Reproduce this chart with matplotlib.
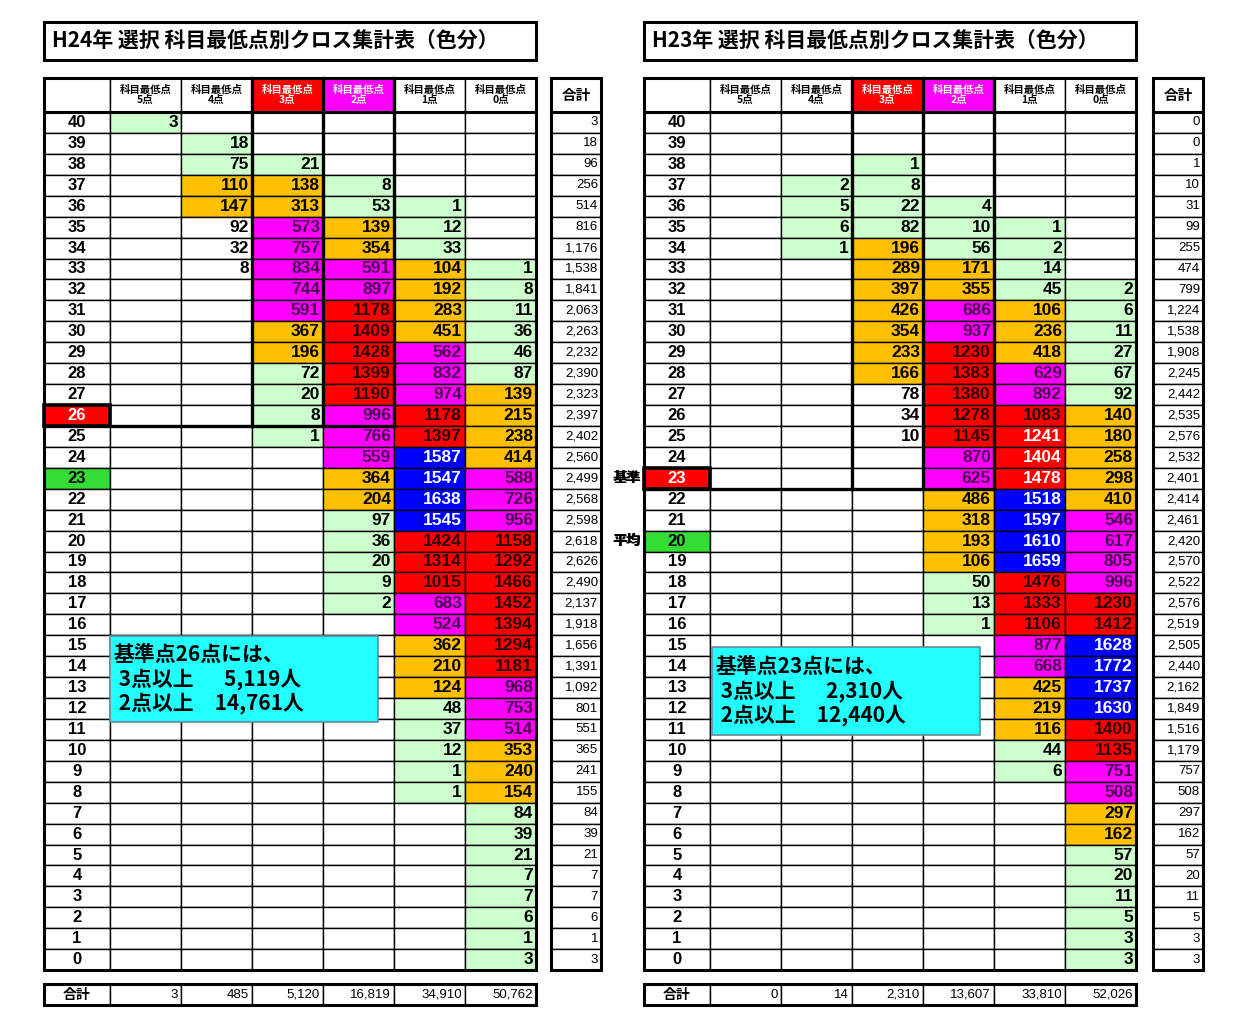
import matplotlib
matplotlib.use("Agg")
import matplotlib.pyplot as plt
from matplotlib.patches import Rectangle

plt.rcParams["font.family"] = ["Noto Sans CJK JP", "DejaVu Sans"]
NUM_FONT = ["Liberation Sans Narrow", "Liberation Sans", "Noto Sans CJK JP"]

# ---- data -----------------------------------------------------------------------------------
SCORES = list(range(40, -1, -1))
COL_HEADS = ["科目最低点\n5点", "科目最低点\n4点", "科目最低点\n3点",
             "科目最低点\n2点", "科目最低点\n1点", "科目最低点\n0点"]
N = None
# columns: 5点, 4点, 3点, 2点, 1点, 0点 ; rows 40 .. 0
H24_CELLS = [
    [3, N, N, N, N, N], [N, 18, N, N, N, N], [N, 75, 21, N, N, N], [N, 110, 138, 8, N, N],
    [N, 147, 313, 53, 1, N], [N, 92, 573, 139, 12, N], [N, 32, 757, 354, 33, N],
    [N, 8, 834, 591, 104, 1], [N, N, 744, 897, 192, 8], [N, N, 591, 1178, 283, 11],
    [N, N, 367, 1409, 451, 36], [N, N, 196, 1428, 562, 46], [N, N, 72, 1399, 832, 87],
    [N, N, 20, 1190, 974, 139], [N, N, 8, 996, 1178, 215], [N, N, 1, 766, 1397, 238],
    [N, N, N, 559, 1587, 414], [N, N, N, 364, 1547, 588], [N, N, N, 204, 1638, 726],
    [N, N, N, 97, 1545, 956], [N, N, N, 36, 1424, 1158], [N, N, N, 20, 1314, 1292],
    [N, N, N, 9, 1015, 1466], [N, N, N, 2, 683, 1452], [N, N, N, N, 524, 1394],
    [N, N, N, N, 362, 1294], [N, N, N, N, 210, 1181], [N, N, N, N, 124, 968],
    [N, N, N, N, 48, 753], [N, N, N, N, 37, 514], [N, N, N, N, 12, 353],
    [N, N, N, N, 1, 240], [N, N, N, N, 1, 154], [N, N, N, N, N, 84], [N, N, N, N, N, 39],
    [N, N, N, N, N, 21], [N, N, N, N, N, 7], [N, N, N, N, N, 7], [N, N, N, N, N, 6],
    [N, N, N, N, N, 1], [N, N, N, N, N, 3]]
H24_ROWTOT = [3, 18, 96, 256, 514, 816, 1176, 1538, 1841, 2063, 2263, 2232, 2390, 2323,
              2397, 2402, 2560, 2499, 2568, 2598, 2618, 2626, 2490, 2137, 1918, 1656, 1391,
              1092, 801, 551, 365, 241, 155, 84, 39, 21, 7, 7, 6, 1, 3]
H24_COLTOT = [3, 485, 5120, 16819, 34910, 50762]

H23_CELLS = [
    [N, N, N, N, N, N], [N, N, N, N, N, N], [N, N, 1, N, N, N], [N, 2, 8, N, N, N],
    [N, 5, 22, 4, N, N], [N, 6, 82, 10, 1, N], [N, 1, 196, 56, 2, N],
    [N, N, 289, 171, 14, N], [N, N, 397, 355, 45, 2], [N, N, 426, 686, 106, 6],
    [N, N, 354, 937, 236, 11], [N, N, 233, 1230, 418, 27], [N, N, 166, 1383, 629, 67],
    [N, N, 78, 1380, 892, 92], [N, N, 34, 1278, 1083, 140], [N, N, 10, 1145, 1241, 180],
    [N, N, N, 870, 1404, 258], [N, N, N, 625, 1478, 298], [N, N, N, 486, 1518, 410],
    [N, N, N, 318, 1597, 546], [N, N, N, 193, 1610, 617], [N, N, N, 106, 1659, 805],
    [N, N, N, 50, 1476, 996], [N, N, N, 13, 1333, 1230], [N, N, N, 1, 1106, 1412],
    [N, N, N, N, 877, 1628], [N, N, N, N, 668, 1772], [N, N, N, N, 425, 1737],
    [N, N, N, N, 219, 1630], [N, N, N, N, 116, 1400], [N, N, N, N, 44, 1135],
    [N, N, N, N, 6, 751], [N, N, N, N, N, 508], [N, N, N, N, N, 297], [N, N, N, N, N, 162],
    [N, N, N, N, N, 57], [N, N, N, N, N, 20], [N, N, N, N, N, 11], [N, N, N, N, N, 5],
    [N, N, N, N, N, 3], [N, N, N, N, N, 3]]
H23_ROWTOT = [0, 0, 1, 10, 31, 99, 255, 474, 799, 1224, 1538, 1908, 2245, 2442, 2535, 2576,
              2532, 2401, 2414, 2461, 2420, 2570, 2522, 2576, 2519, 2505, 2440, 2162, 1849,
              1516, 1179, 757, 508, 297, 162, 57, 20, 11, 5, 3, 3]
H23_COLTOT = [0, 14, 2310, 13607, 33810, 52026]

# cells left uncoloured in the original (score, column index)
H24_PLAIN = [(35, 1), (34, 1), (33, 1)]
H23_PLAIN = [(27, 2), (26, 2), (25, 2)]
H23_WHITE_TEXT = [(25, 4), (24, 4), (23, 4)]

TABLES = [
    dict(title="H24年 選択 科目最低点別クロス集計表（色分）", cells=H24_CELLS,
         rowtot=H24_ROWTOT, coltot=H24_COLTOT, x0=44, tx=551, base=26, avg=23,
         plain=H24_PLAIN, wtext=[], side=False,
         note="基準点26点には、\n 3点以上　  5,119人\n 2点以上　14,761人",
         note_box=(110, 636, 268, 86)),
    dict(title="H23年 選択 科目最低点別クロス集計表（色分）", cells=H23_CELLS,
         rowtot=H23_ROWTOT, coltot=H23_COLTOT, x0=644, tx=1153, base=23, avg=20,
         plain=H23_PLAIN, wtext=H23_WHITE_TEXT, side=True,
         note="基準点23点には、\n 3点以上　  2,310人\n 2点以上　12,440人",
         note_box=(712, 647, 268, 88)),
]

# ---- styling --------------------------------------------------------------------------------
GREEN, ORANGE, MAGENTA, RED, BLUE = "#ccffcc", "#ffc000", "#ff00ff", "#ff0000", "#0000ff"


def fill_for(v):
    if v < 100:
        return GREEN, "black"
    if v < 500:
        return ORANGE, "black"
    if v < 1000:
        return MAGENTA, "#4a0050"
    if v < 1500:
        return RED, "#2a0000"
    return BLUE, "white"


LW = 66          # label column width
CW = 71          # data column width
TW = 50          # total column width
Y_HEAD, Y_DATA, RH = 78, 112, 20.93
Y_SUM, SH = 984, 21

fig = plt.figure(figsize=(12.59, 10.24), dpi=100)
ax = fig.add_axes([0, 0, 1, 1])
ax.set_xlim(0, 1259)
ax.set_ylim(1024, 0)
ax.axis("off")


def box(x, y, w, h, fc="white", lw=1.0, z=1, ec="black"):
    ax.add_patch(Rectangle((x, y), w, h, facecolor=fc, edgecolor=ec, lw=lw, zorder=z))


for t in TABLES:
    x0, tx = t["x0"], t["tx"]
    xr = x0 + LW + 6 * CW
    # title
    box(x0, 22, xr - x0, 38, lw=2.2)
    ax.text(x0 + 8, 41, t["title"], fontsize=15, fontweight="bold", va="center", ha="left")

    # header
    box(x0, Y_HEAD, LW, Y_DATA - Y_HEAD)
    for j, h in enumerate(COL_HEADS):
        cx = x0 + LW + j * CW
        fc, tc = ("white", "black")
        if j == 2:
            fc, tc = RED, "white"
        elif j == 3:
            fc, tc = MAGENTA, "white"
        box(cx, Y_HEAD, CW, Y_DATA - Y_HEAD, fc=fc)
        ax.text(cx + CW / 2, (Y_HEAD + Y_DATA) / 2, h, fontsize=7.5, fontweight="bold",
                ha="center", va="center", color=tc, linespacing=1.0)
    box(tx, Y_HEAD, TW, Y_DATA - Y_HEAD)
    ax.text(tx + TW / 2, (Y_HEAD + Y_DATA) / 2, "合計", fontsize=10.5, fontweight="bold",
            ha="center", va="center")

    # body
    for i, s in enumerate(SCORES):
        y = Y_DATA + i * RH
        lfc, ltc = "white", "black"
        if s == t["base"]:
            lfc, ltc = RED, "white"
        elif s == t["avg"]:
            lfc, ltc = "#33dd33", "black"
        box(x0, y, LW, RH, fc=lfc)
        ax.text(x0 + LW / 2, y + RH / 2, str(s), fontsize=12, fontweight="bold",
                ha="center", va="center", color=ltc, family=NUM_FONT)
        for j, v in enumerate(t["cells"][i]):
            cx = x0 + LW + j * CW
            fc, tc = "white", "black"
            if v is not None:
                fc, tc = fill_for(v)
                if (s, j) in t["plain"]:
                    fc, tc = "white", "black"
                if (s, j) in t["wtext"]:
                    tc = "white"
            box(cx, y, CW, RH, fc=fc)
            if v is not None:
                ax.text(cx + CW - 3, y + RH / 2, str(v), fontsize=12.5, fontweight="bold",
                        ha="right", va="center", color=tc, family=NUM_FONT)
        box(tx, y, TW, RH)
        ax.text(tx + TW - 3, y + RH / 2, f"{t['rowtot'][i]:,}", fontsize=9.5,
                ha="right", va="center", family=NUM_FONT)

    y_end = Y_DATA + len(SCORES) * RH
    # thick outlines
    ax.add_patch(Rectangle((x0, Y_HEAD), xr - x0, y_end - Y_HEAD, fill=False, lw=2.2, zorder=5))
    ax.add_patch(Rectangle((tx, Y_HEAD), TW, y_end - Y_HEAD, fill=False, lw=2.2, zorder=5))
    ax.plot([x0, xr], [Y_DATA, Y_DATA], color="black", lw=2.2, zorder=5)
    ax.plot([tx, tx + TW], [Y_DATA, Y_DATA], color="black", lw=2.2, zorder=5)
    bi = SCORES.index(t["base"])
    y_base = Y_DATA + (bi + 1) * RH
    for j in (2, 3, 4):
        xx = x0 + LW + j * CW
        ax.plot([xx, xx], [Y_HEAD, y_base], color="black", lw=2.4, zorder=5)
    ax.plot([x0, x0 + LW + 4 * CW], [y_base, y_base], color="black", lw=2.4, zorder=5)
    ax.add_patch(Rectangle((x0, y_base - RH), LW, RH, fill=False, lw=2.6, zorder=6))

    if t["side"]:
        for s, lab in ((t["base"], "基準"), (t["avg"], "平均")):
            yy = Y_DATA + SCORES.index(s) * RH + RH / 2
            ax.text(x0 - 3, yy, lab, fontsize=10, fontweight="bold", ha="right", va="center")

    # column totals
    box(x0, Y_SUM, LW, SH, lw=1.0)
    ax.text(x0 + LW / 2, Y_SUM + SH / 2, "合計", fontsize=10, fontweight="bold",
            ha="center", va="center")
    for j, v in enumerate(t["coltot"]):
        cx = x0 + LW + j * CW
        box(cx, Y_SUM, CW, SH)
        ax.text(cx + CW - 3, Y_SUM + SH / 2, f"{v:,}", fontsize=9.5, ha="right",
                va="center", family=NUM_FONT)
    ax.add_patch(Rectangle((x0, Y_SUM), xr - x0, SH, fill=False, lw=2.2, zorder=5))

    # callout
    bx, by, bw, bh = t["note_box"]
    ax.add_patch(Rectangle((bx, by), bw, bh, facecolor="#22ffff", edgecolor="#6a8a9a",
                           lw=1.2, zorder=8))
    ax.text(bx + 4, by + bh / 2, t["note"], fontsize=15, fontweight="bold", ha="left",
            va="center", zorder=9, linespacing=1.15)

# side labels for the left table
ax.text(640, Y_DATA + SCORES.index(23) * RH + RH / 2, "基準", fontsize=10, fontweight="bold",
        ha="right", va="center")
ax.text(640, Y_DATA + SCORES.index(20) * RH + RH / 2, "平均", fontsize=10, fontweight="bold",
        ha="right", va="center")

fig.savefig("out.png", dpi=100)
